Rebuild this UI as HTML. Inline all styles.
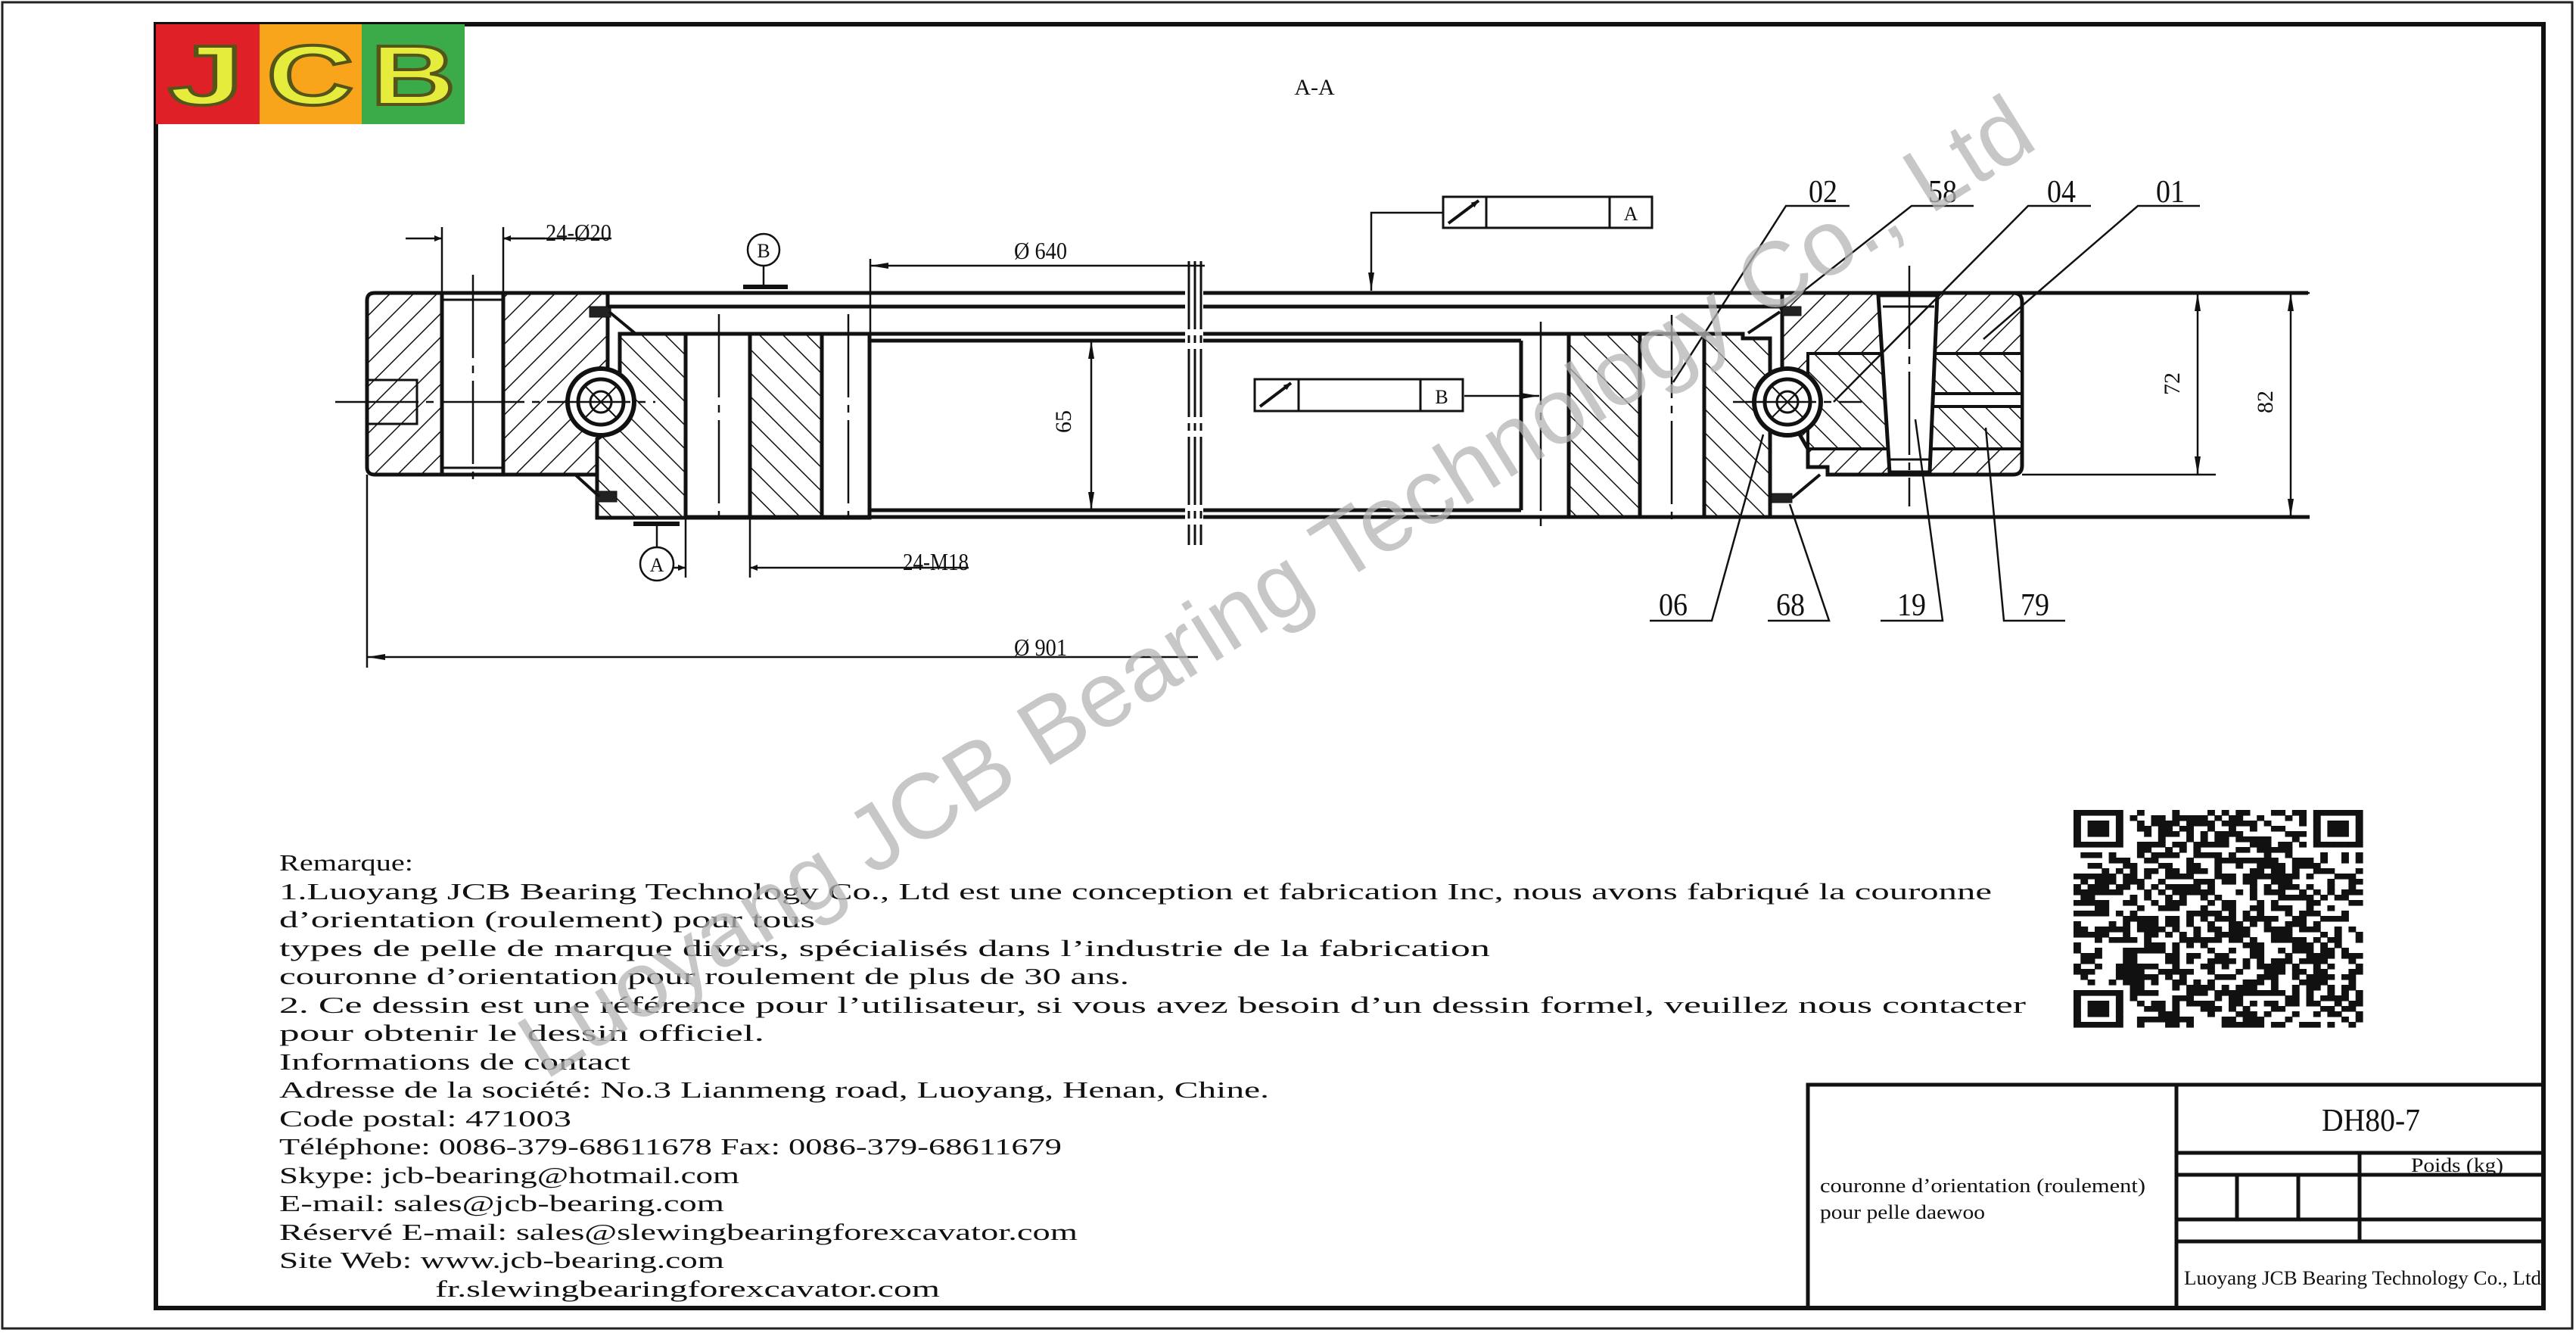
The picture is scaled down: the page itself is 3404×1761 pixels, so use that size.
<!DOCTYPE html>
<html><head><meta charset="utf-8">
<style>
html,body{margin:0;padding:0;background:#fff;}
svg{display:block;}
text{font-family:"Liberation Serif",serif;fill:#111;}
</style></head>
<body>
<svg id="s" width="3404" height="1761" viewBox="0 0 3404 1761" xmlns="http://www.w3.org/2000/svg">
<defs>
<pattern id="hb" patternUnits="userSpaceOnUse" width="22" height="22" patternTransform="rotate(45)">
<rect width="22" height="22" fill="#fff"/><line x1="0" y1="0" x2="0" y2="22" stroke="#111" stroke-width="3"/></pattern>
<pattern id="hf" patternUnits="userSpaceOnUse" width="22" height="22" patternTransform="rotate(-45)">
<rect width="22" height="22" fill="#fff"/><line x1="0" y1="0" x2="0" y2="22" stroke="#111" stroke-width="3"/></pattern>
<marker id="ar" markerWidth="10" markerHeight="8" refX="10" refY="4" orient="auto" markerUnits="userSpaceOnUse" viewBox="0 0 10 8"><path d="M0,0 L10,4 L0,8z" fill="#111"/></marker>
<marker id="arB" markerWidth="24" markerHeight="10" refX="24" refY="5" orient="auto" markerUnits="userSpaceOnUse"><path d="M0,1 L24,5 L0,9z" fill="#111"/></marker>
<marker id="arS" markerWidth="24" markerHeight="10" refX="0" refY="5" orient="auto" markerUnits="userSpaceOnUse"><path d="M24,1 L0,5 L24,9z" fill="#111"/></marker>
</defs>

<rect x="3" y="3" width="3396" height="1752" fill="none" stroke="#222" stroke-width="3"/>
<rect x="206" y="32" width="3155" height="1696" fill="none" stroke="#111" stroke-width="6"/>

<!-- logo -->
<rect x="206" y="32" width="138" height="132" fill="#e02027"/>
<rect x="343" y="32" width="136" height="132" fill="#f8a51b"/>
<rect x="478" y="32" width="136" height="132" fill="#3bab49"/>
<g stroke="#55551a" stroke-width="4">
<text x="272" y="138" text-anchor="middle" textLength="100" lengthAdjust="spacingAndGlyphs" style="font-family:'Liberation Sans',sans-serif;font-weight:bold;font-size:112px;fill:#e5ec3c">J</text>
<text x="410" y="138" text-anchor="middle" textLength="115" lengthAdjust="spacingAndGlyphs" style="font-family:'Liberation Sans',sans-serif;font-weight:bold;font-size:112px;fill:#e5ec3c">C</text>
<text x="546" y="138" text-anchor="middle" textLength="112" lengthAdjust="spacingAndGlyphs" style="font-family:'Liberation Sans',sans-serif;font-weight:bold;font-size:112px;fill:#e5ec3c">B</text>
</g>

<text x="1737" y="125" font-size="30" text-anchor="middle">A-A</text>

<g stroke="#111" fill="none">
<path d="M495,387 L803,387 L803,627 L495,627 Q485,627 485,617 L485,397 Q485,387 495,387z" fill="url(#hb)" stroke-width="5"/>
<rect x="584" y="387" width="81" height="240" fill="#fff" stroke-width="5"/>
<line x1="584" y1="396" x2="665" y2="396" stroke-width="3"/><line x1="584" y1="618" x2="665" y2="618" stroke-width="3"/>
<rect x="485" y="502" width="66" height="58" fill="none" stroke-width="3"/>
<path d="M819,441 L906,441 L906,684 L789,684 L789,580 L819,560z" fill="url(#hf)" stroke-width="5"/>
<rect x="906" y="441" width="85" height="243" fill="#fff" stroke-width="5"/>
<rect x="991" y="441" width="95" height="243" fill="url(#hf)" stroke-width="5"/>
<rect x="1086" y="441" width="63" height="243" fill="#fff" stroke-width="5"/>
<circle cx="794" cy="531" r="44" fill="#fff" stroke-width="6"/>
<circle cx="794" cy="531" r="30" stroke-width="5"/>
<circle cx="794" cy="531" r="14" stroke-width="3"/>
<path d="M772,509 L816,553 M816,509 L772,553" stroke-width="2"/>
<rect x="779" y="405" width="28" height="14" fill="#222"/>
<rect x="787" y="649" width="28" height="14" fill="#222"/>
<path d="M805,412 L840,441 M760,627 L792,656" stroke-width="4"/>

<line x1="803" y1="387" x2="3050" y2="387" stroke-width="5"/>
<line x1="803" y1="405" x2="2355" y2="405" stroke-width="5"/>
<line x1="1149" y1="441" x2="2252" y2="441" stroke-width="5"/>
<line x1="1149" y1="450" x2="2010" y2="450" stroke-width="5"/>
<line x1="1149" y1="674" x2="2010" y2="674" stroke-width="5"/>
<line x1="906" y1="683" x2="3052" y2="683" stroke-width="5"/>
<line x1="2010" y1="450" x2="2010" y2="674" stroke-width="5"/>
<rect x="1566" y="360" width="24" height="360" fill="#fff" stroke="none"/>
<path d="M1571,345 V720 M1579,345 V720 M1587,345 V720" stroke-width="3" stroke-dasharray="90,8,10,8"/>

<rect x="2073" y="441" width="94" height="242" fill="url(#hf)" stroke-width="5"/>
<rect x="2167" y="441" width="85" height="242" fill="#fff" stroke-width="5"/>
<path d="M2252,441 L2303,441 L2303,447 L2339,447 L2339,500 L2320,531 L2339,560 L2339,683 L2252,683z" fill="url(#hf)" stroke-width="5"/>
<path d="M2355,387 L2660,387 Q2672,387 2672,399 L2672,615 Q2672,627 2660,627 L2415,627 L2415,617 L2389,617 L2389,593 L2370,560 L2355,540z" fill="url(#hb)" stroke-width="5"/>
<rect x="2389" y="467" width="283" height="126" fill="url(#hf)" stroke-width="4"/>
<rect x="2553" y="520" width="119" height="17" fill="#fff" stroke-width="4"/>
<path d="M2482,390 L2560,390 L2550,624 L2497,624z" fill="#fff" stroke-width="5"/>
<line x1="2488" y1="405" x2="2556" y2="405" stroke-width="3"/>
<line x1="2497" y1="607" x2="2550" y2="607" stroke-width="3"/>
<circle cx="2362" cy="531" r="44" fill="#fff" stroke-width="6"/>
<circle cx="2362" cy="531" r="30" stroke-width="5"/>
<circle cx="2362" cy="531" r="14" stroke-width="3"/>
<path d="M2340,509 L2384,553 M2384,509 L2340,553" stroke-width="2"/>
<rect x="2355" y="405" width="25" height="12" fill="#222"/>
<rect x="2341" y="652" width="27" height="12" fill="#222"/>
<path d="M2352,412 L2310,440 M2368,658 L2405,627" stroke-width="4"/>

<g stroke-width="2.5" stroke-dasharray="110,10,10,10">
<line x1="443" y1="531" x2="866" y2="531"/>
<line x1="2290" y1="531" x2="2460" y2="531"/>
<line x1="625" y1="363" x2="625" y2="640"/>
<line x1="1121" y1="415" x2="1121" y2="693"/>
<line x1="2036" y1="425" x2="2036" y2="700"/>
<line x1="2209" y1="416" x2="2209" y2="693"/>
<line x1="2523" y1="351" x2="2523" y2="669"/>
<line x1="950" y1="415" x2="950" y2="693"/>
</g>

<g stroke-width="2.5">
<line x1="584" y1="300" x2="584" y2="387"/><line x1="665" y1="300" x2="665" y2="387"/>
<line x1="536" y1="315" x2="584" y2="315" marker-end="url(#ar)"/>
<line x1="720" y1="315" x2="665" y2="315" marker-end="url(#ar)"/>
<line x1="665" y1="315" x2="808" y2="315"/>
<line x1="1150" y1="342" x2="1150" y2="441"/>
<line x1="1592" y1="351" x2="1150" y2="351" marker-end="url(#arB)"/>
<line x1="485" y1="627" x2="485" y2="882"/>
<line x1="1583" y1="868" x2="485" y2="868" marker-end="url(#arB)"/>
<line x1="906" y1="683" x2="906" y2="763"/><line x1="991" y1="683" x2="991" y2="763"/>
<line x1="868" y1="750" x2="906" y2="750" marker-end="url(#ar)"/>
<line x1="1280" y1="750" x2="991" y2="750" marker-end="url(#ar)"/>
<line x1="1442" y1="450" x2="1442" y2="674" marker-start="url(#arS)" marker-end="url(#arB)"/>
<line x1="2680" y1="387" x2="3052" y2="387"/>
<line x1="2672" y1="627" x2="2928" y2="627"/>
<line x1="2904" y1="387" x2="2904" y2="627" marker-start="url(#arS)" marker-end="url(#arB)"/>
<line x1="3027" y1="387" x2="3027" y2="683" marker-start="url(#arS)" marker-end="url(#arB)"/>
</g>
<circle cx="1009" cy="330" r="21" fill="#fff" stroke-width="2.5"/>
<line x1="1009" y1="351" x2="1009" y2="379" stroke-width="2.5"/>
<line x1="982" y1="379" x2="1041" y2="379" stroke-width="6"/>
<circle cx="868" cy="745" r="22" fill="#fff" stroke-width="2.5"/>
<line x1="868" y1="692" x2="868" y2="723" stroke-width="2.5"/>
<line x1="837" y1="692" x2="898" y2="692" stroke-width="6"/>

<rect x="1907" y="260" width="276" height="41" stroke-width="3" fill="#fff"/>
<line x1="1964" y1="260" x2="1964" y2="301" stroke-width="3"/><line x1="2127" y1="260" x2="2127" y2="301" stroke-width="3"/>
<line x1="1914" y1="295" x2="1954" y2="265" stroke-width="4" marker-end="url(#ar)"/>
<polyline points="1907,281 1812,281 1812,384" stroke-width="2.5" marker-end="url(#arB)"/>
<rect x="1658" y="501" width="275" height="42" stroke-width="3" fill="#fff"/>
<line x1="1716" y1="501" x2="1716" y2="543" stroke-width="3"/><line x1="1877" y1="501" x2="1877" y2="543" stroke-width="3"/>
<line x1="1665" y1="537" x2="1706" y2="506" stroke-width="4" marker-end="url(#ar)"/>
<line x1="1935" y1="523" x2="2034" y2="523" stroke-width="2.5" marker-end="url(#arB)"/>

<g stroke-width="2.5">
<polyline points="2444,272 2360,272 2211,505"/>
<polyline points="2608,272 2526,272 2352,409"/>
<polyline points="2763,272 2680,272 2423,531"/>
<polyline points="2907,272 2825,272 2621,448"/>
<polyline points="2180,820 2262,820 2330,574"/>
<polyline points="2336,820 2417,820 2365,666"/>
<polyline points="2485,820 2567,820 2531,554"/>
<polyline points="2729,820 2648,820 2624,565"/>
</g>
</g>

<g font-size="42">
<text x="721" y="318" font-size="32" textLength="87" lengthAdjust="spacingAndGlyphs">24-Ø20</text>
<text x="1340" y="342" font-size="32" textLength="70" lengthAdjust="spacingAndGlyphs">Ø 640</text>
<text x="1340" y="866" font-size="32" textLength="70" lengthAdjust="spacingAndGlyphs">Ø 901</text>
<text x="1193" y="753" font-size="32" textLength="87" lengthAdjust="spacingAndGlyphs">24-M18</text>
<text x="1009" y="340" font-size="26" text-anchor="middle">B</text>
<text x="868" y="755" font-size="26" text-anchor="middle">A</text>
<text x="2155" y="291" font-size="26" text-anchor="middle">A</text>
<text x="1905" y="533" font-size="26" text-anchor="middle">B</text>
<text transform="translate(1415,557) rotate(-90)" font-size="30" text-anchor="middle">65</text>
<text transform="translate(2880,507) rotate(-90)" font-size="30" text-anchor="middle">72</text>
<text transform="translate(3003,531) rotate(-90)" font-size="30" text-anchor="middle">82</text>
<text x="2409" y="267" text-anchor="middle" textLength="38" lengthAdjust="spacingAndGlyphs">02</text>
<text x="2567" y="267" text-anchor="middle" textLength="38" lengthAdjust="spacingAndGlyphs">58</text>
<text x="2724" y="267" text-anchor="middle" textLength="38" lengthAdjust="spacingAndGlyphs">04</text>
<text x="2868" y="267" text-anchor="middle" textLength="38" lengthAdjust="spacingAndGlyphs">01</text>
<text x="2211" y="813" text-anchor="middle" textLength="38" lengthAdjust="spacingAndGlyphs">06</text>
<text x="2366" y="813" text-anchor="middle" textLength="38" lengthAdjust="spacingAndGlyphs">68</text>
<text x="2526" y="813" text-anchor="middle" textLength="38" lengthAdjust="spacingAndGlyphs">19</text>
<text x="2689" y="813" text-anchor="middle" textLength="38" lengthAdjust="spacingAndGlyphs">79</text>
</g>

<g font-size="31">
<text x="369" y="1150" textLength="177" lengthAdjust="spacingAndGlyphs">Remarque:</text>
<text x="369" y="1188" textLength="2263" lengthAdjust="spacingAndGlyphs">1.Luoyang JCB Bearing Technology Co., Ltd est une conception et fabrication Inc, nous avons fabriqué la couronne</text>
<text x="369" y="1225" textLength="708" lengthAdjust="spacingAndGlyphs">d’orientation (roulement) pour tous</text>
<text x="369" y="1263" textLength="1600" lengthAdjust="spacingAndGlyphs">types de pelle de marque divers, spécialisés dans l’industrie de la fabrication</text>
<text x="369" y="1300" textLength="1123" lengthAdjust="spacingAndGlyphs">couronne d’orientation pour roulement de plus de 30 ans.</text>
<text x="369" y="1338" textLength="2308" lengthAdjust="spacingAndGlyphs">2. Ce dessin est une référence pour l’utilisateur, si vous avez besoin d’un dessin formel, veuillez nous contacter</text>
<text x="369" y="1375" textLength="641" lengthAdjust="spacingAndGlyphs">pour obtenir le dessin officiel.</text>
<text x="369" y="1413" textLength="464" lengthAdjust="spacingAndGlyphs">Informations de contact</text>
<text x="369" y="1450" textLength="1308" lengthAdjust="spacingAndGlyphs">Adresse de la société: No.3 Lianmeng road, Luoyang, Henan, Chine.</text>
<text x="369" y="1488" textLength="386" lengthAdjust="spacingAndGlyphs">Code postal: 471003</text>
<text x="369" y="1525" textLength="1034" lengthAdjust="spacingAndGlyphs">Téléphone: 0086-379-68611678 Fax: 0086-379-68611679</text>
<text x="369" y="1563" textLength="608" lengthAdjust="spacingAndGlyphs">Skype: jcb-bearing@hotmail.com</text>
<text x="369" y="1600" textLength="588" lengthAdjust="spacingAndGlyphs">E-mail: sales@jcb-bearing.com</text>
<text x="369" y="1638" textLength="1055" lengthAdjust="spacingAndGlyphs">Réservé E-mail: sales@slewingbearingforexcavator.com</text>
<text x="369" y="1675" textLength="588" lengthAdjust="spacingAndGlyphs">Site Web: www.jcb-bearing.com</text>
<text x="575" y="1713" textLength="667" lengthAdjust="spacingAndGlyphs">fr.slewingbearingforexcavator.com</text>
</g>

<g stroke="#111" fill="none">
<rect x="2389" y="1433" width="972" height="295" stroke-width="5"/>
<line x1="2876" y1="1433" x2="2876" y2="1728" stroke-width="5"/>
<line x1="2876" y1="1523" x2="3361" y2="1523" stroke-width="5"/>
<line x1="2876" y1="1552" x2="3361" y2="1552" stroke-width="5"/>
<line x1="2876" y1="1611" x2="3361" y2="1611" stroke-width="5"/>
<line x1="2876" y1="1640" x2="3361" y2="1640" stroke-width="5"/>
<line x1="3118" y1="1523" x2="3118" y2="1640" stroke-width="5"/>
<line x1="2956" y1="1552" x2="2956" y2="1611" stroke-width="5"/>
<line x1="3037" y1="1552" x2="3037" y2="1611" stroke-width="5"/>
</g>
<text x="3068" y="1494" font-size="42" textLength="130" lengthAdjust="spacingAndGlyphs">DH80-7</text>
<text x="3186" y="1548" font-size="26" textLength="122" lengthAdjust="spacingAndGlyphs">Poids (kg)</text>
<text x="2405" y="1575" font-size="26" textLength="430" lengthAdjust="spacingAndGlyphs">couronne d’orientation (roulement)</text>
<text x="2405" y="1610" font-size="26" textLength="218" lengthAdjust="spacingAndGlyphs">pour pelle daewoo</text>
<text x="2886" y="1697" font-size="26" textLength="472" lengthAdjust="spacingAndGlyphs">Luoyang JCB Bearing Technology Co., Ltd</text>

<g id="qr"></g>

<text transform="translate(720,1428) rotate(-32)" x="0" y="0" font-size="122" textLength="2330" lengthAdjust="spacingAndGlyphs" style="font-family:'Liberation Sans',sans-serif;fill:#b4b4b4;fill-opacity:0.75">Luoyang JCB Bearing Technology Co., Ltd</text>
</svg>
<script>
(function(){
var g=document.getElementById('qr'),N=41,x0=2740,y0=1070,W=382,H=287,cw=W/N,ch=H/N,s=12345,out='';
function r(){s=(s*1103515245+12345)&0x7fffffff;return s/0x7fffffff;}
function isF(i,j,ci,cj){var di=i-ci,dj=j-cj;if(di<0||dj<0||di>6||dj>6)return -1;if(di==0||dj==0||di==6||dj==6)return 1;if(di>=2&&di<=4&&dj>=2&&dj<=4)return 1;return 0;}
for(var i=0;i<N;i++)for(var j=0;j<N;j++){
var v=-1,c=[[0,0],[0,N-7],[N-7,0]];
for(var k=0;k<3;k++){var t=isF(i,j,c[k][0],c[k][1]);if(t>=0)v=t;}
if(v<0){ if((i==7&&j<8)||(j==7&&i<8)||(i==7&&j>N-9)||(j==N-8&&i<8)||(i==N-8&&j<8)||(j==7&&i>N-9)) v=0; else v=r()<0.52?1:0;}
if(v)out+='<rect x="'+(x0+j*cw).toFixed(1)+'" y="'+(y0+i*ch).toFixed(1)+'" width="'+(cw+0.6).toFixed(1)+'" height="'+(ch+0.6).toFixed(1)+'" fill="#111"/>';
}
g.innerHTML=out;
})();
</script>
</body></html>
